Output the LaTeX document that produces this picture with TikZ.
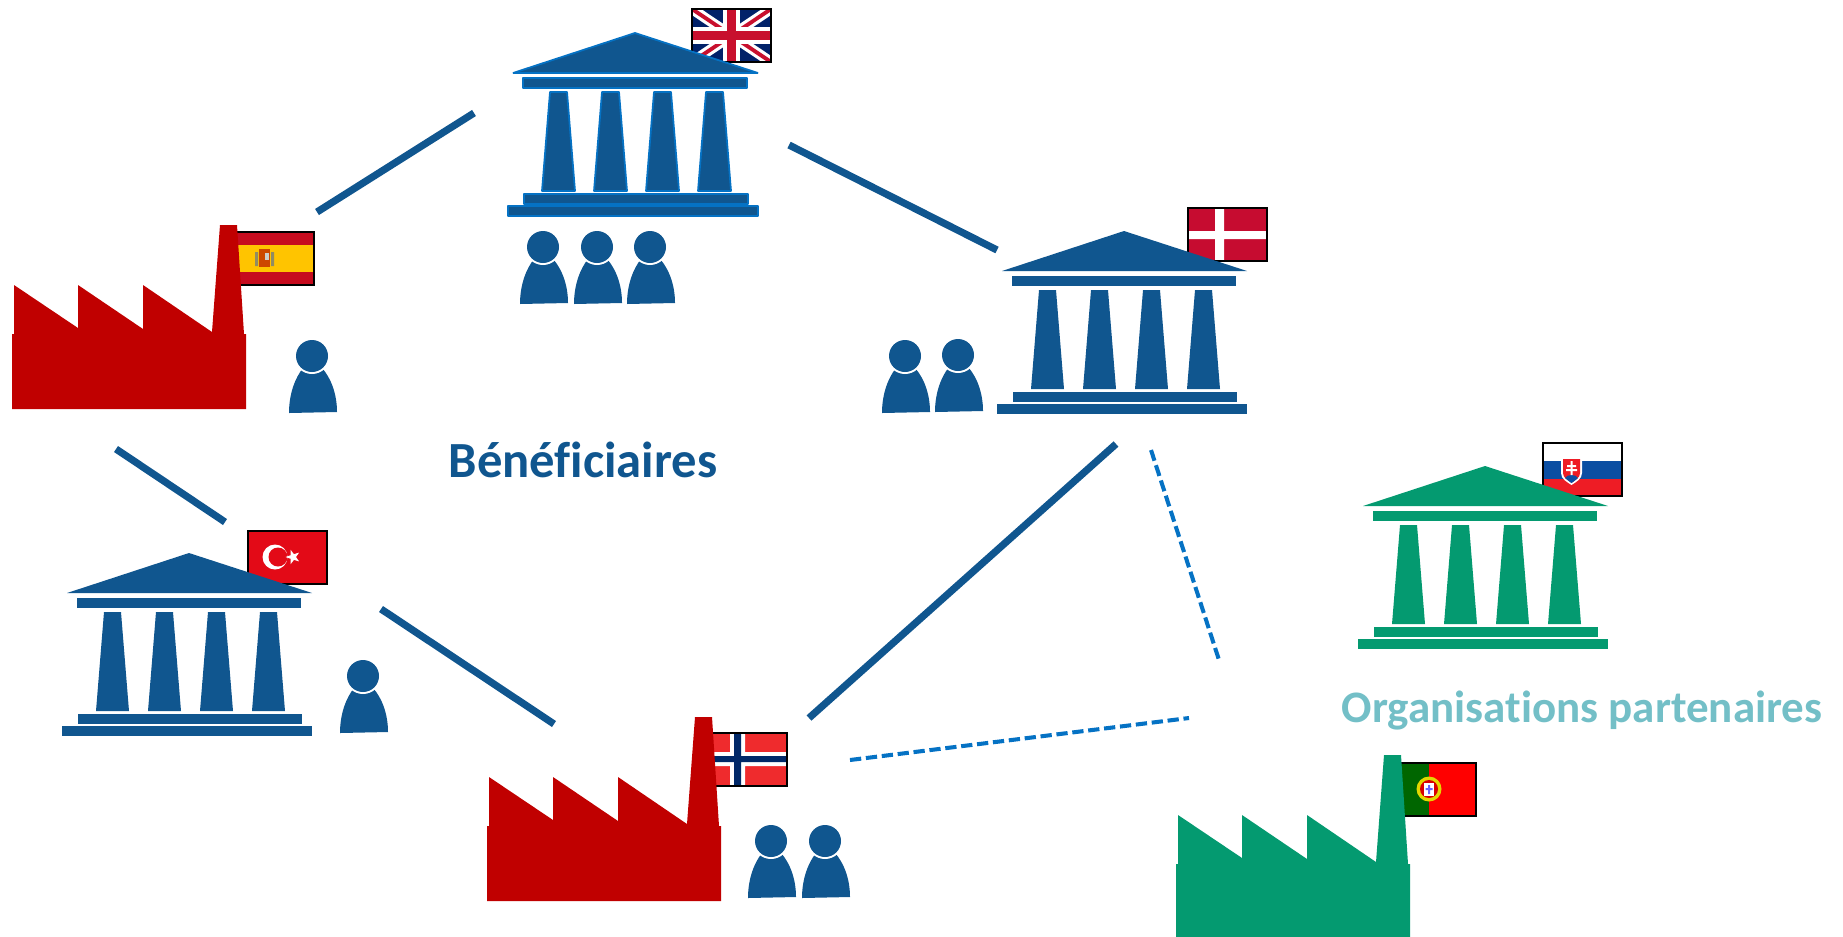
\documentclass[tikz,border=0pt]{standalone}
\usepackage{fontspec}
\setmainfont[Ligatures=NoCommon]{Carlito}
\usepackage{tikz}
\definecolor{benefblue}{HTML}{10568F}
\definecolor{dashblue}{HTML}{0572C4}
\definecolor{partnergreen}{HTML}{049A70}
\definecolor{partnerteal}{HTML}{73BFC7}
\definecolor{factoryred}{HTML}{C00000}
\definecolor{ukblue}{HTML}{012169}
\definecolor{ukred}{HTML}{C8102E}
\definecolor{esred}{HTML}{C60B1E}
\definecolor{esyellow}{HTML}{FFC400}
\definecolor{dkred}{HTML}{C60C30}
\definecolor{skblue}{HTML}{0B4EA2}
\definecolor{skred}{HTML}{EE1C25}
\definecolor{nored}{HTML}{EF2B2D}
\definecolor{nonavy}{HTML}{002868}
\definecolor{trred}{HTML}{E30A17}
\definecolor{ptgreen}{HTML}{006600}
\tikzstyle{link edge}=[line width=2.05pt,benefblue]
\tikzstyle{dash edge}=[line width=1.15pt,dashblue,dash pattern=on 3.2pt off 1.35pt]
\tikzstyle{flag frame}=[draw=black,line width=0.7pt]
% x y colour
\newcommand{\temple}[4][]{
  \begin{scope}[shift={(#2,#3)},fill=#4,line join=bevel,#1]
    \path[fill,#1] (0,0) -- (123,40) -- (-122,40) -- cycle;
    \path[fill,#1] (-112,45) rectangle (112,55);
    \foreach \colx in {-76.5,-24.5,27.5,79.5}{
      \path[fill,#1] (\colx-8.5,59) -- (\colx+8.5,59) -- (\colx+16.5,158) -- (\colx-16.5,158) -- cycle;
    }
    \path[fill,#1] (-111,161) rectangle (113,171);
    \path[fill,#1] (-127,173) rectangle (123,183);
  \end{scope}
}
\newcommand{\factory}[3]{
  \fill[#3,shift={(#1,#2)}] (0,0) -- (2,0) -- (2,-49) -- (66,-6) -- (66,-49) -- (131,-5) -- (131,-49)
    -- (200,-2) -- (208,-109) -- (225,-109) -- (232,0) -- (234,0) -- (234,75) -- (0,75) -- cycle;
}
\newcommand{\person}[2]{
  \begin{scope}[shift={(#1,#2)}]
    \fill[benefblue] (-23,57) .. controls (-23,38) and (-17,22) .. (-9,12) -- (10,12)
      .. controls (19,22) and (25,38) .. (25,56) -- cycle;
    \fill[white] (0,0) circle [radius=18];
    \fill[benefblue] (0,0) circle [radius=16];
  \end{scope}
}
\newcommand{\flagbox}[3]{
  \begin{scope}[shift={(#1,#2)}]
    \begin{scope}
      \clip (0,0) rectangle (79,53);
      #3
    \end{scope}
    \draw[flag frame] (0,0) rectangle (79,53);
  \end{scope}
}
\begin{document}
\begin{tikzpicture}[x=0.01cm,y=-0.01cm]
  \useasboundingbox (0,0) rectangle (1843,936);

  % flags
  \flagbox{692}{9}{
    \fill[ukblue] (0,0) rectangle (79,53);
    \draw[white,line width=2.9pt] (0,0) -- (79,53) (79,0) -- (0,53);
    \draw[ukred,line width=1.1pt] (0,0) -- (79,53) (79,0) -- (0,53);
    \draw[white,line width=5pt] (39.5,0) -- (39.5,53) (0,26.5) -- (79,26.5);
    \draw[ukred,line width=2.5pt] (39.5,0) -- (39.5,53) (0,26.5) -- (79,26.5);
  }
  \flagbox{235}{232}{
    \fill[esred] (0,0) rectangle (79,53);
    \fill[esyellow] (0,13) rectangle (79,40);
    \fill[gray!70!olive] (20,20) rectangle (23,34) (36,20) rectangle (39,34);
    \fill[orange!70!red!80!black] (24,17) rectangle (35,35);
    \fill[gray!40] (30,21) rectangle (34,28);
  }
  \flagbox{1188}{208}{
    \fill[dkred] (0,0) rectangle (79,53);
    \fill[white] (27,0) rectangle (36,53) (0,23) rectangle (79,31);
  }
  \flagbox{1543}{443}{
    \fill[white] (0,0) rectangle (79,18);
    \fill[skblue] (0,18) rectangle (79,36);
    \fill[skred] (0,36) rectangle (79,53);
    \fill[white] (18,14) -- (39,14) -- (39,30) .. controls (39,36) and (33,39) .. (28.5,42)
      .. controls (24,39) and (18,36) .. (18,30) -- cycle;
    \fill[skred] (20,16) -- (37,16) -- (37,30) .. controls (37,35) and (32,37) .. (28.5,40)
      .. controls (25,37) and (20,35) .. (20,30) -- cycle;
    \fill[skblue] (22,35) .. controls (24,31) and (33,31) .. (35,35) .. controls (33,37) and (31,38) .. (28.5,40)
      .. controls (26,38) and (24,37) .. (22,35) -- cycle;
    \fill[white] (27.5,18) rectangle (29.5,32) (24,22) rectangle (33,24) (23,26) rectangle (34,28);
  }
  \flagbox{1397}{763}{
    \fill[red] (0,0) rectangle (79,53);
    \fill[ptgreen] (0,0) rectangle (32,53);
    \fill[yellow!75!olive] (32,26) circle [radius=12.5];
    \fill[red!85!black] (32,26) circle [radius=9];
    \fill[white] (27,20) rectangle (37,33);
    \fill[blue!60] (31,22) rectangle (33,31) (28.5,25) rectangle (35.5,27);
  }
  \flagbox{708}{733}{
    \fill[nored] (0,0) rectangle (79,53);
    \fill[white] (22,0) rectangle (37,53) (0,19) rectangle (79,33);
    \fill[nonavy] (26,0) rectangle (33,53) (0,23) rectangle (79,29);
  }
  \flagbox{248}{531}{
    \fill[trred] (0,0) rectangle (79,53);
    \fill[white] (27,26) circle [radius=12.5];
    \fill[trred] (30,26) circle [radius=9.5];
    \fill[white,shift={(45,26)}] (36:7.5) -- (72:3) -- (108:7.5) -- (144:3) -- (180:7.5) -- (216:3)
      -- (252:7.5) -- (288:3) -- (324:7.5) -- (0:3) -- cycle;
  }

  % buildings
  \temple[draw=dashblue,line width=0.5pt]{635}{33}{benefblue}
  \temple{1124}{231}{benefblue}
  \temple{189}{553}{benefblue}
  \temple{1485}{466}{partnergreen}

  \factory{12}{334}{factoryred}
  \factory{487}{826}{factoryred}
  \factory{1176}{864}{partnergreen}

  % people
  \foreach \headx/\heady in {543/247,597/247,650/247,312/356,905/356,958/355,363/676,771/841,825/841}{
    \person{\headx}{\heady}
  }

  % links
  \coordinate (es a) at (317,212);
  \coordinate (uk a) at (474,113);
  \coordinate (uk b) at (789,145);
  \coordinate (dk a) at (997,250);
  \coordinate (es b) at (116,449);
  \coordinate (tr a) at (225,522);
  \coordinate (tr b) at (381,609);
  \coordinate (no a) at (554,724);
  \coordinate (dk b) at (1116,444);
  \coordinate (no b) at (809,718);
  \coordinate (dk c) at (1151,450);
  \coordinate (pa a) at (1219,660);
  \coordinate (no c) at (850,760);
  \coordinate (pa b) at (1189,718);
  \draw[link edge] (es a) -- (uk a);
  \draw[link edge] (uk b) -- (dk a);
  \draw[link edge] (es b) -- (tr a);
  \draw[link edge] (tr b) -- (no a);
  \draw[link edge] (dk b) -- (no b);
  \draw[dash edge] (dk c) -- (pa a);
  \draw[dash edge] (no c) -- (pa b);

  \node[font=\bfseries\fontsize{14.4}{16}\selectfont,text=benefblue] (benef) at (583,460) {Bénéficiaires};
  \node[font=\bfseries\fontsize{12.8}{15}\selectfont,text=partnerteal] (partners) at (1582,711) {Organisations partenaires};
\end{tikzpicture}
\end{document}
